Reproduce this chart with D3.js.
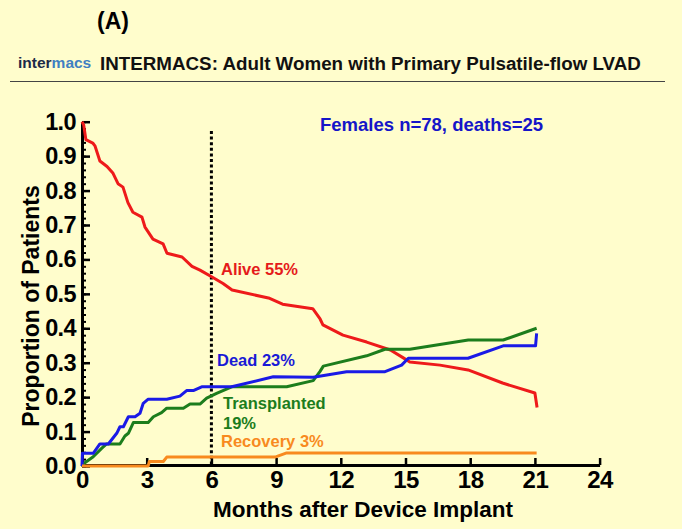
<!DOCTYPE html>
<html>
<head>
<meta charset="utf-8">
<script src="https://cdn.jsdelivr.net/npm/d3@7"></script>
<style>
  html, body { margin: 0; padding: 0; background: #fffdcc; }
  svg { display: block; }
  text { font-family: "Liberation Sans", Arial, sans-serif; }
</style>
</head>
<body>
<svg id="chart" width="682" height="529"></svg>
<script>
// ---- data (month, proportion) ----
const alive = [[0,1.0],[0.08,0.99],[0.18,0.948],[0.5,0.938],[0.6,0.93],[0.83,0.886],[1.16,0.87],[1.44,0.85],[1.67,0.82],[1.9,0.81],[2.13,0.765],[2.36,0.737],[2.78,0.723],[2.92,0.694],[3.29,0.659],[3.76,0.645],[3.94,0.618],[4.64,0.607],[5.1,0.58],[5.47,0.569],[6.03,0.549],[6.54,0.53],[6.96,0.511],[8.7,0.487],[9.3,0.47],[10.7,0.457],[11.04,0.427],[11.17,0.41],[12.1,0.38],[13.2,0.36],[14.3,0.337],[14.9,0.314],[15.2,0.302],[16.6,0.293],[17.9,0.279],[19.5,0.241],[21.0,0.212],[21.1,0.17]];
const dead = [[0,0],[0.02,0.037],[0.52,0.037],[0.83,0.064],[1.22,0.064],[1.61,0.095],[1.76,0.114],[1.92,0.114],[2.15,0.143],[2.46,0.143],[2.69,0.153],[2.84,0.182],[3.07,0.194],[3.93,0.194],[4.54,0.203],[4.85,0.219],[5.16,0.219],[5.55,0.23],[6.94,0.23],[8.87,0.259],[10.72,0.258],[12.27,0.274],[14.05,0.274],[14.82,0.293],[15.13,0.313],[17.9,0.313],[19.53,0.349],[21.03,0.349],[21.08,0.385]];
const transplanted = [[0,0],[0.1,0.008],[0.52,0.027],[0.91,0.051],[1.14,0.064],[1.76,0.064],[1.99,0.087],[2.15,0.095],[2.38,0.126],[3.07,0.126],[3.31,0.143],[3.69,0.155],[3.93,0.168],[4.7,0.168],[5.01,0.18],[5.47,0.18],[5.78,0.197],[6.24,0.211],[6.94,0.23],[9.49,0.23],[10.72,0.248],[11.03,0.274],[11.19,0.29],[13.2,0.32],[14.05,0.339],[15.2,0.339],[17.91,0.366],[19.53,0.366],[21.08,0.4]];
const recovery = [[0,0],[3.07,0],[3.12,0.013],[3.77,0.013],[3.93,0.026],[8.95,0.026],[9.49,0.038],[21.08,0.038]];
const xTicks = [0,3,6,9,12,15,18,21,24];
const yTicks = [0,0.1,0.2,0.3,0.4,0.5,0.6,0.7,0.8,0.9,1.0];
const yMinorTicks = d3.range(0, 51).map(i => i / 50);
const markerMonth = 6;

const svg = d3.select("#chart");
svg.append("rect").attr("width", 682).attr("height", 529).attr("fill", "#fffdcc");

// header
svg.append("text").attr("x", 97).attr("y", 29).attr("font-size", 23).attr("font-weight", "bold").attr("fill", "#000").text("(A)");
const logo = svg.append("text").attr("x", 18).attr("y", 68).attr("font-size", 15.5).attr("font-weight", "bold");
logo.append("tspan").attr("fill", "#1c2a48").text("inter");
logo.append("tspan").attr("fill", "#3f80c2").text("macs");
svg.append("text").attr("x", 100).attr("y", 70).attr("font-size", 18.8).attr("font-weight", "bold").attr("fill", "#111").text("INTERMACS: Adult Women with Primary Pulsatile-flow LVAD");
svg.append("line").attr("x1", 10).attr("x2", 665).attr("y1", 81.5).attr("y2", 81.5).attr("stroke", "#444").attr("stroke-width", 1.2);

// scales
const x = d3.scaleLinear().domain([0, 24]).range([82, 599.6]);
const y = d3.scaleLinear().domain([0, 1]).range([466, 121.7]);

// minor y ticks
const yMinor = d3.axisLeft(y).tickValues(yMinorTicks).tickSize(-4).tickFormat("").tickSizeOuter(0);
svg.append("g").attr("transform", "translate(82,0)").call(yMinor)
  .call(g => g.select(".domain").remove())
  .call(g => g.selectAll("line").attr("stroke", "#000").attr("stroke-width", 2));

// y axis
const yAxis = d3.axisLeft(y).tickValues(yTicks).tickSize(-8).tickSizeOuter(0).tickPadding(6).tickFormat(d3.format(".1f"));
svg.append("g").attr("transform", "translate(82,0)").call(yAxis)
  .call(g => g.select(".domain").attr("stroke", "#000").attr("stroke-width", 3))
  .call(g => g.selectAll(".tick line").attr("stroke", "#000").attr("stroke-width", 2.5))
  .call(g => g.selectAll("text").attr("font-size", 23.5).attr("font-weight", "bold").attr("fill", "#000").attr("font-family", "Liberation Sans, Arial, sans-serif").attr("letter-spacing", -0.6));

// x axis
const xAxis = d3.axisBottom(x).tickValues(xTicks).tickSize(-7).tickSizeOuter(0).tickPadding(6).tickFormat(d3.format("d"));
svg.append("g").attr("transform", "translate(0,465)").call(xAxis)
  .call(g => g.select(".domain").attr("stroke", "#000").attr("stroke-width", 3))
  .call(g => g.selectAll(".tick line").attr("stroke", "#000").attr("stroke-width", 2.5))
  .call(g => g.selectAll("text").attr("font-size", 24).attr("font-weight", "bold").attr("fill", "#000").attr("font-family", "Liberation Sans, Arial, sans-serif").attr("letter-spacing", -0.5));

// axis titles
svg.append("text").attr("transform", "translate(39,306) rotate(-90)").attr("text-anchor", "middle")
  .attr("font-size", 23).attr("font-weight", "bold").attr("fill", "#000").text("Proportion of Patients");
svg.append("text").attr("x", 213).attr("y", 517).attr("font-size", 22.5).attr("font-weight", "bold").attr("fill", "#000").text("Months after Device Implant");

// marker line at 6 months
svg.append("line").attr("x1", x(markerMonth)).attr("x2", x(markerMonth)).attr("y1", 131).attr("y2", 466)
  .attr("stroke", "#000").attr("stroke-width", 3).attr("stroke-dasharray", "3,2.6");

// series
const line = d3.line().x(d => x(d[0])).y(d => y(d[1]));
const series = [
  {data: alive, color: "#ee1a1a"},
  {data: transplanted, color: "#1c7d1c"},
  {data: dead, color: "#1a1ae6"},
  {data: recovery, color: "#f88a1e"}
];
series.forEach(s => {
  svg.append("path").datum(s.data).attr("d", line).attr("fill", "none")
    .attr("stroke", s.color).attr("stroke-width", 3).attr("stroke-linejoin", "round");
});

// annotations
svg.append("text").attr("x", 320).attr("y", 131).attr("font-size", 18.5).attr("font-weight", "bold").attr("fill", "#1515c8").text("Females n=78, deaths=25");
svg.append("text").attr("x", 221).attr("y", 275).attr("font-size", 16.5).attr("font-weight", "bold").attr("fill", "#e51a1a").text("Alive 55%");
svg.append("text").attr("x", 217).attr("y", 366).attr("font-size", 16.5).attr("font-weight", "bold").attr("fill", "#1a1ad6").text("Dead 23%");
svg.append("text").attr("x", 223).attr("y", 409).attr("font-size", 16.5).attr("font-weight", "bold").attr("fill", "#1c7d1c").text("Transplanted");
svg.append("text").attr("x", 223).attr("y", 429).attr("font-size", 16.5).attr("font-weight", "bold").attr("fill", "#1c7d1c").text("19%");
svg.append("text").attr("x", 221).attr("y", 447).attr("font-size", 16.5).attr("font-weight", "bold").attr("fill", "#f88a1e").text("Recovery 3%");
</script>
</body>
</html>
